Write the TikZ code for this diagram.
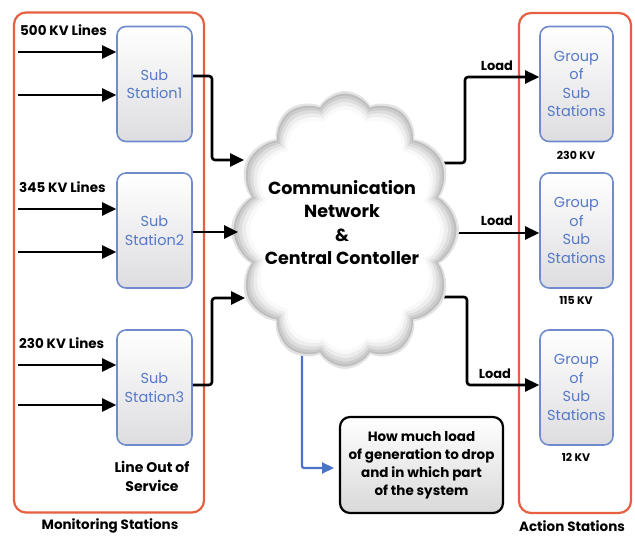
\documentclass[tikz,border=0pt]{standalone}
\usepackage{fontspec}
\setmainfont{Poppins}
\usetikzlibrary{arrows.meta,shapes.symbols}
\definecolor{redb}{RGB}{230,95,65}
\definecolor{blueb}{RGB}{110,140,205}
\definecolor{bluea}{RGB}{75,115,200}
\definecolor{bluet}{RGB}{85,120,200}
\begin{document}
\begin{tikzpicture}[x=1pt,y=-1pt,
 frame/.style={draw=redb,line width=2.2pt,rounded corners=12pt,inner sep=0pt},
 ssbox/.style={draw=blueb,line width=1.6pt,rounded corners=9pt,top color=white,bottom color=blue!6!gray!25,
   text=bluet,font=\fontsize{14.5}{18.5}\selectfont,align=center,inner sep=0pt,minimum height=115pt},
 lbl/.style={font=\bfseries\fontsize{13.5}{16}\selectfont,inner sep=0pt},
 kv/.style={font=\bfseries\fontsize{11}{14}\selectfont,inner sep=0pt},
 arr/.style={line width=2.6pt,-{Triangle[length=14pt,width=13pt]},rounded corners=3pt},
 barr/.style={line width=2.2pt,draw=bluea,-{Triangle[length=12pt,width=11pt]},rounded corners=2pt},
 cl/.style={cloud,cloud puffs=12,cloud puff arc=120,cloud ignores aspect,inner sep=0pt},
]
\useasboundingbox (0,0) rectangle (635,537);
% frames
\node[frame,minimum width=190pt,minimum height=500pt] (mon) at (109,262.5) {};
\node[frame,minimum width=112pt,minimum height=500pt] (act) at (575,263) {};
\node[lbl,font=\bfseries\fontsize{13.5}{16}\selectfont] (monl) at (110,526) {Monitoring Stations};
\node[lbl,font=\bfseries\fontsize{13.5}{16}\selectfont] (actl) at (572,526) {Action Stations};
% substations
\node[ssbox,minimum width=75pt] (s1) at (154.5,84) {Sub\\Station1};
\node[ssbox,minimum width=75pt] (s2) at (154.5,230.5) {Sub\\Station2};
\node[ssbox,minimum width=75pt] (s3) at (154.5,387.5) {Sub\\Station3};
\node[lbl,anchor=west] (l1) at (20,30) {500 KV Lines};
\node[lbl,anchor=west] (l2) at (19,187) {345 KV Lines};
\node[lbl,anchor=west] (l3) at (19,343) {230 KV Lines};
\node[lbl,align=center,font=\bfseries\fontsize{14}{19}\selectfont] (los) at (152,476) {Line Out of\\Service};
\coordinate (a1) at (18,52);  \coordinate (a2) at (18,95);
\coordinate (a3) at (18,209); \coordinate (a4) at (18,252);
\coordinate (a5) at (18,365); \coordinate (a6) at (18,405);
\foreach \a/\s in {a1/s1,a2/s1,a3/s2,a4/s2,a5/s3,a6/s3}
  \draw[arr] (\a) -- (\s.west |- \a);
% groups
\node[ssbox,minimum width=73pt] (g1) at (576.5,84) {Group\\of\\Sub\\Stations};
\node[ssbox,minimum width=73pt] (g2) at (576.5,230.5) {Group\\of\\Sub\\Stations};
\node[ssbox,minimum width=73pt] (g3) at (576.5,387.5) {Group\\of\\Sub\\Stations};
\node[kv] (k1) at (576,155) {230 KV};
\node[kv] (k2) at (576,300) {115 KV};
\node[kv] (k3) at (576,457) {12 KV};
% info box
\node[draw=black,line width=2.2pt,rounded corners=10pt,top color=white,bottom color=gray!30,
  minimum width=163pt,minimum height=96pt,align=center,inner sep=0pt,
  font=\bfseries\fontsize{13.5}{18}\selectfont] (info) at (421.5,465)
  {How much load\\of generation to drop\\and in which part\\of the system};
% connectors out of cloud
\coordinate (o1) at (430,163);
\coordinate (o2) at (440,233);
\coordinate (o3) at (430,297);
\draw[arr] (o1) -- (465,163) |- (g1.west |- 0,77);
\draw[arr] (o2) -- (g2.west |- 0,233);
\draw[arr] (o3) -- (467,297) |- (g3.west |- 0,385);
\node[lbl,font=\bfseries\fontsize{13}{16}\selectfont] (ld1) at (497,66) {Load};
\node[lbl,font=\bfseries\fontsize{13}{16}\selectfont] (ld2) at (497,221) {Load};
\node[lbl,font=\bfseries\fontsize{13}{16}\selectfont] (ld3) at (495,374) {Load};
% blue arrow
\coordinate (b0) at (302,330);
\coordinate (b1) at (334,468);
\draw[barr] (b0) |- (b1);
% cloud
\node[cl,fill=gray!22,minimum width=228pt,minimum height=278pt] (k0) at (345,230) {};
\node[cl,fill=gray!52,minimum width=223pt,minimum height=273pt] (k4) at (345,230) {};
\node[cl,fill=gray!40,minimum width=219pt,minimum height=269pt] (k9) at (345,230) {};
\node[cl,fill=gray!27,minimum width=213pt,minimum height=263pt] (k15) at (345,230) {};
\node[cl,fill=gray!14,minimum width=206pt,minimum height=256pt] (k22) at (345,230) {};
\node[cl,fill=gray!5,minimum width=198pt,minimum height=248pt] (k26) at (345,230) {};
\node[cl,fill=white,minimum width=190pt,minimum height=240pt] (k30) at (345,230) {};
\node[align=center,font=\bfseries\fontsize{17.5}{23.5}\selectfont] (cc) at (342,222.5)
  {Communication\\Network\\\&\\Central Contoller};
% connectors into cloud
\coordinate (c1) at (244,160);
\coordinate (c2) at (238,232);
\coordinate (c3) at (245,298);
\draw[arr] (s1.east |- 0,76) -- (212,76) |- (c1);
\draw[arr] (s2.east |- 0,232) -- (c2);
\draw[arr] (s3.east |- 0,385) -- (212,385) |- (c3);
\end{tikzpicture}
\end{document}
